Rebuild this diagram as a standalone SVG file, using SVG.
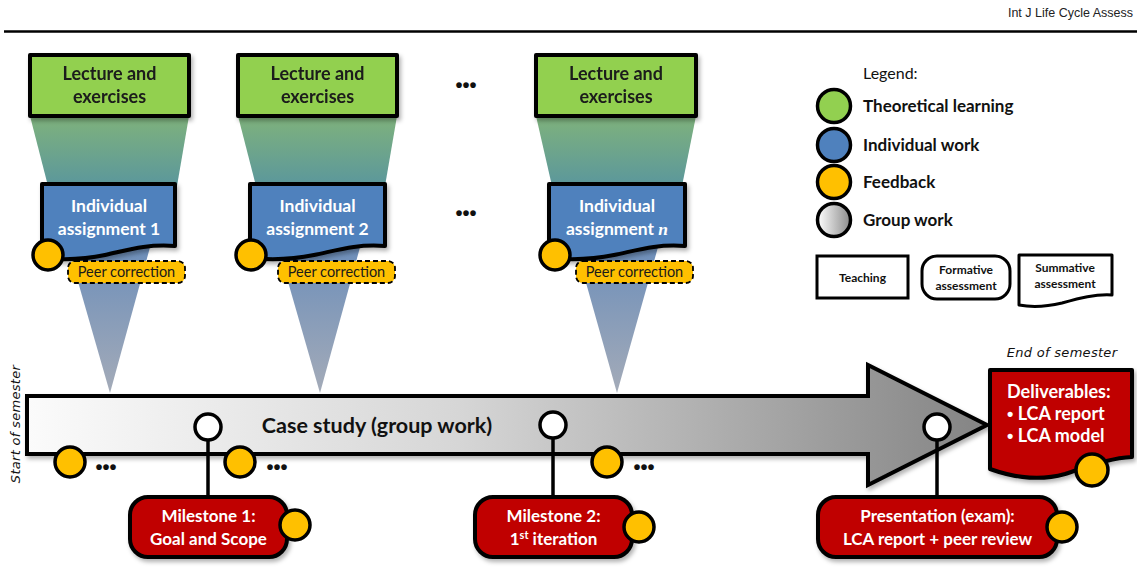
<svg xmlns="http://www.w3.org/2000/svg" width="1137" height="574" viewBox="0 0 1137 574">
<defs>
<linearGradient id="gTop" x1="0" y1="0" x2="0" y2="1">
<stop offset="0" stop-color="#7fb27c"/><stop offset="1" stop-color="#5b979c"/>
</linearGradient>
<linearGradient id="gBot" x1="0" y1="0" x2="0" y2="1">
<stop offset="0" stop-color="#6a8dba"/><stop offset="1" stop-color="#a4abb8"/>
</linearGradient>
<linearGradient id="gArrow" gradientUnits="userSpaceOnUse" x1="27" y1="0" x2="987" y2="0">
<stop offset="0" stop-color="#fbfbfb"/><stop offset="0.45" stop-color="#d6d6d6"/><stop offset="1" stop-color="#848484"/>
</linearGradient>
<linearGradient id="gGroup" x1="0" y1="0" x2="1" y2="0">
<stop offset="0" stop-color="#ffffff"/><stop offset="1" stop-color="#8a8a8a"/>
</linearGradient>
<filter id="sh" x="-10%" y="-10%" width="130%" height="140%">
<feDropShadow dx="2" dy="3" stdDeviation="2" flood-color="#000" flood-opacity="0.3"/>
</filter>
<style>
.b{stroke:#000;stroke-width:4;stroke-linejoin:round}
.green{fill:#92d050}
.blue{fill:#4f81bd}
.red{fill:#c00000}
.fb{fill:#ffc000;stroke:#000;stroke-width:3.5}
.ms{fill:#fff;stroke:#000;stroke-width:3.5}
.t{font-family:Lato,"Liberation Sans",sans-serif;font-weight:bold;text-anchor:middle}
.dk{fill:#1a1a1a}
.wh{fill:#fff}
.peer{fill:#ffc000;stroke:#000;stroke-width:1.8;stroke-dasharray:5 3}
.pt{font-family:Lato,"Liberation Sans",sans-serif;font-size:14.5px;fill:#1a1a1a;text-anchor:middle}
.dots{font-family:"Liberation Sans",sans-serif;font-weight:bold;font-size:20px;fill:#111;text-anchor:middle}
.lg{font-family:Lato,"Liberation Sans",sans-serif;font-weight:bold;font-size:17px;fill:#111}
.sm{font-family:Lato,"Liberation Sans",sans-serif;font-weight:bold;font-size:12px;fill:#111;text-anchor:middle}
.it{font-family:"DejaVu Sans",sans-serif;font-style:italic;font-size:13px;fill:#111;letter-spacing:0.3px}
.ln{stroke:#000;stroke-width:3.5;fill:none}
</style>
</defs>
<rect width="1137" height="574" fill="#fff"/>
<text x="1133" y="17" font-family="'Liberation Sans',sans-serif" font-size="12.5" fill="#222" text-anchor="end">Int J Life Cycle Assess</text>
<line x1="4" y1="31.5" x2="1137" y2="31.5" stroke="#000" stroke-width="2.5"/>

<g id="funnels">
<polygon points="30,116 189,116 177,186 48,186" fill="url(#gTop)"/>
<polygon points="238,116 397,116 385,186 256,186" fill="url(#gTop)"/>
<polygon points="536,116 696,116 682,186 552,186" fill="url(#gTop)"/>
<polygon points="66,240 152,240 110,393" fill="url(#gBot)"/>
<polygon points="276,240 362,240 320,393" fill="url(#gBot)"/>
<polygon points="574,240 660,240 617,393" fill="url(#gBot)"/>
</g>

<g id="lecture1" filter="url(#sh)"><rect x="30" y="55" width="159" height="61" class="b green"/>
<text class="t dk" font-size="18"><tspan x="109.5" y="80">Lecture and</tspan><tspan x="109.5" y="103">exercises</tspan></text></g>
<g id="lecture2" filter="url(#sh)"><rect x="238" y="55" width="159" height="61" class="b green"/>
<text class="t dk" font-size="18"><tspan x="317.5" y="80">Lecture and</tspan><tspan x="317.5" y="103">exercises</tspan></text></g>
<g id="lecture3" filter="url(#sh)"><rect x="536" y="55" width="160" height="61" class="b green"/>
<text class="t dk" font-size="18"><tspan x="616" y="80">Lecture and</tspan><tspan x="616" y="103">exercises</tspan></text></g>

<text class="dots" x="466" y="92">•••</text>
<text class="dots" x="466" y="220">•••</text>

<g id="assign1">
<g filter="url(#sh)"><path d="M42,184 H175 V246 C145,244 128,250 105,255 C82,260 62,260 42,258 Z" class="b blue"/></g>
<text class="t wh" font-size="17.5"><tspan x="109" y="212">Individual</tspan><tspan x="109" y="235">assignment 1</tspan></text>
<circle cx="48" cy="255" r="15" class="fb"/>
<rect x="68" y="261" width="117" height="22" rx="7" class="peer"/>
<text class="pt" x="126.5" y="277">Peer correction</text>
</g>
<g id="assign2">
<g filter="url(#sh)"><path d="M250,184 H385 V246 C355,244 338,250 314,255 C290,260 270,260 250,258 Z" class="b blue"/></g>
<text class="t wh" font-size="17.5"><tspan x="317.5" y="212">Individual</tspan><tspan x="317.5" y="235">assignment 2</tspan></text>
<circle cx="251" cy="255" r="15" class="fb"/>
<rect x="278" y="261" width="117" height="22" rx="7" class="peer"/>
<text class="pt" x="336.5" y="277">Peer correction</text>
</g>
<g id="assignN">
<g filter="url(#sh)"><path d="M549,184 H685 V246 C655,244 638,250 614,255 C590,260 570,260 549,258 Z" class="b blue"/></g>
<text class="t wh" font-size="17.5"><tspan x="617" y="212">Individual</tspan><tspan x="617" y="235">assignment <tspan font-family="'Liberation Serif',serif" font-style="italic">n</tspan></tspan></text>
<circle cx="555" cy="255" r="15" class="fb"/>
<rect x="576" y="261" width="117" height="22" rx="7" class="peer"/>
<text class="pt" x="634.5" y="277">Peer correction</text>
</g>

<g id="legend">
<text x="863" y="79" font-family="Lato,'Liberation Sans',sans-serif" font-size="16" fill="#111">Legend:</text>
<circle cx="834" cy="106" r="16.5" fill="#92d050" stroke="#000" stroke-width="3.5"/>
<text class="lg" x="863" y="112">Theoretical learning</text>
<circle cx="834" cy="145" r="16.5" fill="#4f81bd" stroke="#000" stroke-width="3.5"/>
<text class="lg" x="863" y="151">Individual work</text>
<circle cx="834" cy="182" r="16.5" fill="#ffc000" stroke="#000" stroke-width="3.5"/>
<text class="lg" x="863" y="188">Feedback</text>
<circle cx="834" cy="220" r="16.5" fill="url(#gGroup)" stroke="#000" stroke-width="3.5"/>
<text class="lg" x="863" y="226">Group work</text>
<rect x="817" y="256" width="91" height="42" fill="#fff" stroke="#000" stroke-width="3"/>
<text class="sm" x="862.5" y="282">Teaching</text>
<rect x="922" y="256" width="88" height="43" rx="15" fill="#fff" stroke="#000" stroke-width="3"/>
<text class="sm"><tspan x="966" y="274">Formative</tspan><tspan x="966" y="290">assessment</tspan></text>
<path d="M1019,255 H1112 V295 C1095,294 1080,298 1062,303 C1045,307 1030,307 1019,305 Z" fill="#fff" stroke="#000" stroke-width="3" stroke-linejoin="round"/>
<text class="sm"><tspan x="1065" y="272">Summative</tspan><tspan x="1065" y="288">assessment</tspan></text>
</g>

<g id="timeline" filter="url(#sh)">
<path d="M27,396 H868 V365 L987,425 L868,485 V454 H27 Z" fill="url(#gArrow)" stroke="#000" stroke-width="4" stroke-linejoin="miter"/>
</g>
<text class="t" x="377" y="433" font-size="21.5" fill="#111">Case study (group work)</text>
<text class="it" transform="translate(20,424) rotate(-90)" text-anchor="middle">Start of semester</text>
<text class="it" x="1062" y="357" text-anchor="middle">End of semester</text>

<g id="connectors">
<line class="ln" x1="208" y1="440" x2="208" y2="498"/>
<line class="ln" x1="553" y1="438" x2="553" y2="498"/>
<line class="ln" x1="937" y1="440" x2="937" y2="498"/>
</g>

<g id="feedbackTimeline">
<circle cx="70" cy="462" r="15" class="fb"/>
<text class="dots" x="106" y="474">•••</text>
<circle cx="240" cy="462" r="15" class="fb"/>
<text class="dots" x="277" y="474">•••</text>
<circle cx="607" cy="462" r="15" class="fb"/>
<text class="dots" x="644" y="474">•••</text>
</g>

<g id="ms1c"><circle cx="208" cy="427" r="13" class="ms"/></g>
<g id="ms2c"><circle cx="553" cy="425" r="13" class="ms"/></g>
<g id="ms3c"><circle cx="937" cy="427" r="13" class="ms"/></g>

<g id="milestone1">
<g filter="url(#sh)"><rect x="130" y="497" width="157" height="60" rx="18" class="b red"/></g>
<text class="t wh" font-size="17"><tspan x="208.5" y="522">Milestone 1:</tspan><tspan x="208.5" y="545">Goal and Scope</tspan></text>
<circle cx="295" cy="525" r="15" class="fb"/>
</g>
<g id="milestone2">
<g filter="url(#sh)"><rect x="475" y="497" width="157" height="60" rx="18" class="b red"/></g>
<text class="t wh" font-size="17"><tspan x="553.5" y="522">Milestone 2:</tspan><tspan x="553.5" y="545">1<tspan font-size="11" baseline-shift="super">st</tspan> iteration</tspan></text>
<circle cx="639" cy="527" r="15" class="fb"/>
</g>
<g id="presentation">
<g filter="url(#sh)"><rect x="818" y="497" width="239" height="60" rx="18" class="b red"/></g>
<text class="t wh" font-size="17"><tspan x="937.5" y="522">Presentation (exam):</tspan><tspan x="937.5" y="545">LCA report + peer review</tspan></text>
<circle cx="1062" cy="527" r="15" class="fb"/>
</g>
<g id="deliverables">
<g filter="url(#sh)"><path d="M990,370 H1132 V457 C1110,458 1090,466 1065,474 C1040,481 1015,478 990,469 Z" class="b red"/></g>
<text font-family="Lato,'Liberation Sans',sans-serif" font-weight="bold" font-size="18" fill="#fff"><tspan x="1007" y="398">Deliverables:</tspan><tspan x="1007" y="420"><tspan font-family="'Liberation Sans',sans-serif">•</tspan> LCA report</tspan><tspan x="1007" y="442"><tspan font-family="'Liberation Sans',sans-serif">•</tspan> LCA model</tspan></text>
<circle cx="1092" cy="470" r="16" class="fb"/>
</g>
</svg>
